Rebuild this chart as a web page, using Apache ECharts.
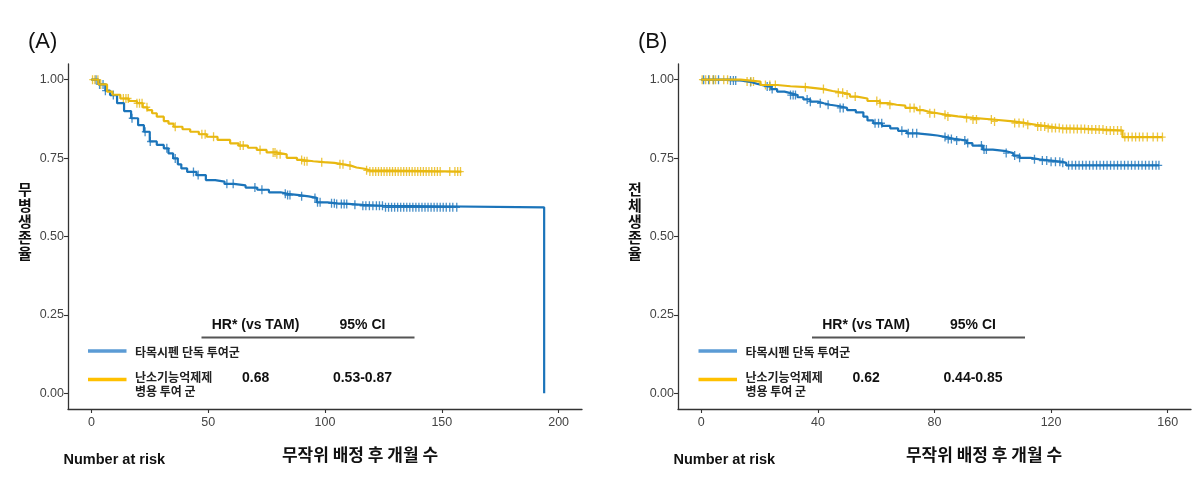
<!DOCTYPE html>
<html>
<head>
<meta charset="utf-8">
<script src="https://cdn.jsdelivr.net/npm/echarts@6/dist/echarts.min.js"></script>
<style>
html,body{margin:0;padding:0;background:#fff;}
#chart{width:1200px;height:482px;}
</style>
</head>
<body>
<div id="chart"></div>
<script>
// ---------- DATA ----------
const xTicksA = [0, 50, 100, 150, 200];
const xTicksB = [0, 40, 80, 120, 160];
const yTicks = [0, 0.25, 0.5, 0.75, 1];

// Panel A: disease-free survival
const dfsTamTime = [0,3,6,8,11,14,17,20,22.5,25,28,31,33,35,37,38.5,41,45,49,53,57,61,66,71,76,81,84,89,93,96.5,101,105,110,116,125,193.8];
const dfsTamSurv = [1,0.985,0.965,0.951,0.925,0.9,0.877,0.855,0.834,0.803,0.792,0.781,0.765,0.749,0.73,0.717,0.706,0.696,0.68,0.675,0.668,0.663,0.656,0.649,0.641,0.636,0.632,0.628,0.623,0.609,0.606,0.604,0.601,0.598,0.593,0];
const dfsTamCens = [2,3.5,5,6,9.4,17.4,23,25.2,32.3,35.9,43.7,45.7,58,60.7,70,73,83,84,85,90,95.7,96.8,97.9,102.8,104,105,107,108.2,109.3,112.8,116.2,117.5,119,120.5,122,123.3,124.6,125.9,127.2,128.5,129.8,131.1,132.4,133.7,135,136.3,137.6,138.9,140.2,141.5,142.8,144.1,145.4,146.7,148,149.3,150.6,151.9,153.4,154.7,156.4];

const dfsOfsTime = [0,3,6.7,9,12.4,16,19.5,22,24,26,28,31,33,35.2,39,42.3,46,49.4,54,59.4,63,67,70.8,75,79,83.6,88,90.7,95,99.3,104,107.8,111,113.5,117,119.2,158.4];
const dfsOfsSurv = [1,0.985,0.962,0.952,0.94,0.932,0.925,0.912,0.903,0.893,0.882,0.868,0.86,0.85,0.842,0.834,0.826,0.818,0.808,0.797,0.79,0.783,0.776,0.768,0.762,0.751,0.744,0.74,0.737,0.735,0.73,0.726,0.72,0.716,0.711,0.707,0.707];
const dfsOfsCens = [0.5,1.5,2.8,4,13.7,14.8,15.8,19.5,20.6,21.7,23.8,35.9,47.3,48.7,52.3,63.7,65,72.2,77.8,78.6,79.4,80.8,90,91.2,92.3,98.6,106.4,107.7,110.7,117.8,119.2,120.5,121.7,122.9,124.1,125.3,126.5,127.7,128.9,130.1,131.3,132.5,133.7,134.9,136.1,137.3,138.5,139.7,140.9,142.1,143.3,144.5,145.7,146.9,148.1,149.3,153.4,155.6,156.8,158];

// Panel B: overall survival
const osTamTime = [0,10,14,17,19,21.4,24,26,28.5,30.6,33,35,37.4,40,42,44.2,47,50,53,55.6,57,59,62,64.8,67.5,70.5,74,78.4,81,84.1,87,91,93,96.6,100,104.6,107,109.2,113,116,120,124,125.2,157];
const osTamSurv = [1,0.997,0.993,0.987,0.982,0.978,0.97,0.962,0.957,0.951,0.944,0.937,0.93,0.925,0.92,0.916,0.91,0.903,0.896,0.882,0.87,0.861,0.853,0.845,0.837,0.829,0.825,0.822,0.817,0.811,0.806,0.798,0.79,0.777,0.772,0.766,0.758,0.751,0.746,0.742,0.738,0.735,0.727,0.727];
const osTamCens = [0.8,2.5,4.2,5.9,10,11,11.8,16.9,22.6,23.5,24.3,30.6,31.5,32.3,36.3,37.4,40.8,43.5,47.6,48.7,59.6,60.8,61.9,68.8,71,72.5,73.9,83.6,84.7,85.8,87.6,90.4,91.4,96.1,97,97.8,104.6,107.5,109.2,114.3,117,118.5,120,121.5,123,124,126,127.2,128.4,129.6,130.8,132,133.2,134.4,135.6,136.8,138,139.2,140.4,141.6,142.8,144,145.2,146.4,147.6,148.8,150,151.2,152.4,153.6,154.8,156,157];

const osOfsTime = [0,13.5,20.3,26,30.6,36,42,45,48.8,51,53.4,57,61.3,64,67,70,73.9,76,78.4,81,84.1,88,93.2,100,106.9,111,114.9,119,122.9,132,138,144.5,158.2];
const osOfsSurv = [1,0.994,0.983,0.979,0.976,0.97,0.964,0.958,0.953,0.946,0.94,0.932,0.925,0.92,0.917,0.91,0.903,0.897,0.893,0.888,0.883,0.878,0.873,0.867,0.862,0.856,0.851,0.846,0.843,0.841,0.838,0.817,0.817];
const osOfsCens = [0.3,1.5,2.8,4,4.9,7.7,9,15.7,17,17.9,22,23.5,25.4,35.7,41.9,47,48.5,50,52.8,60.2,61.3,64.7,71.6,73,75,78.4,80,83.6,84.6,91,93.2,94.4,99.5,100.6,107.5,109,110.5,112,115.4,116.5,117.8,119,120.3,121.5,122.8,124,125.3,126.5,127.8,129,130.3,131.5,132.8,134,135.3,136.5,137.8,139,140.3,141.5,142.8,144,145.3,146.5,147.8,149,150.3,151.5,153,155,156.5,158.2];

const groupNames = ['타목시펜 단독 투여군', '난소기능억제제\n병용 투여 군'];
const hrA = ['0.68', '0.53-0.87'];
const hrB = ['0.62', '0.44-0.85'];

// ---------- HELPERS ----------
function pairs(t, s) { return t.map((v, i) => [v, s[i]]); }
function stepAt(t, times, surv) {
  let v = surv[0];
  for (let i = 0; i < times.length; i++) { if (times[i] <= t) v = surv[i]; else break; }
  return v;
}
function censPts(c, times, surv) { return c.map(t => [t, stepAt(t, times, surv)]); }

const BLUE = '#1B74BA', YELLOW = '#E8B810';
const LEG_BLUE = '#5B9BD5', LEG_YELLOW = '#FFC000';
const FONT = "'Liberation Sans', Arial, 'Noto Sans CJK KR', sans-serif";
const KFONT = "'Noto Sans CJK KR', 'Liberation Sans', sans-serif";
const plusPath = 'path://M8,0 L12,0 L12,8.5 L20,8.5 L20,11.5 L12,11.5 L12,20 L8,20 L8,11.5 L0,11.5 L0,8.5 L8,8.5 Z';

function xAxisCfg(gi, min, max, ticks) {
  return {
    type: 'value', gridIndex: gi, min: min, max: max,
    axisLine: { show: true, onZero: false, lineStyle: { color: '#333', width: 1.3 } },
    axisTick: { show: true, customValues: ticks, length: 4, lineStyle: { color: '#333', width: 1.1 } },
    axisLabel: { customValues: ticks, color: '#444', fontSize: 12.5, fontFamily: FONT, margin: 7 },
    splitLine: { show: false }
  };
}
function yAxisCfg(gi) {
  return {
    type: 'value', gridIndex: gi, min: -0.05, max: 1.05,
    axisLine: { show: true, onZero: false, lineStyle: { color: '#333', width: 1.3 } },
    axisTick: { show: true, customValues: yTicks, length: 4, lineStyle: { color: '#333', width: 1.1 } },
    axisLabel: { customValues: yTicks, color: '#444', fontSize: 12.5, fontFamily: FONT, margin: 4,
      formatter: v => Number(v).toFixed(2) },
    splitLine: { show: false }
  };
}
function lineSeries(gi, data, color) {
  return { type: 'line', xAxisIndex: gi, yAxisIndex: gi, data: data, step: 'end',
    showSymbol: false, symbol: 'none', lineStyle: { color: color, width: 2.2 }, silent: true, animation: false };
}
function censSeries(gi, data, color) {
  return { type: 'scatter', xAxisIndex: gi, yAxisIndex: gi, data: data, symbol: plusPath,
    symbolSize: [6.5, 9], itemStyle: { color: color }, silent: true, animation: false };
}

function txt(x, y, text, opt) {
  return { type: 'text', x: x, y: y, silent: true,
    style: Object.assign({ text: text, fill: '#111', font: 'bold 14px ' + FONT, align: 'left', verticalAlign: 'middle' }, opt || {}) };
}
function ln(x1, y1, x2, y2, stroke, w) {
  return { type: 'line', silent: true, shape: { x1: x1, y1: y1, x2: x2, y2: y2 }, style: { stroke: stroke, lineWidth: w } };
}
function legendBlock(ox, hr) {
  return [
    txt(ox + 255.5, 325, 'HR* (vs TAM)', { align: 'center' }),
    txt(ox + 362.5, 325, '95% CI', { align: 'center' }),
    ln(ox + 201.5, 337.5, ox + 414.5, 337.5, '#555', 2),
    ln(ox + 88, 351, ox + 126.5, 351, LEG_BLUE, 3.5),
    txt(ox + 135, 352, groupNames[0], { font: 'bold 12px ' + KFONT, fill: '#222' }),
    ln(ox + 88, 379.5, ox + 126.5, 379.5, LEG_YELLOW, 3.5),
    txt(ox + 135, 384, groupNames[1], { font: 'bold 12px ' + KFONT, fill: '#222', lineHeight: 14 }),
    txt(ox + 255.7, 378.5, hr[0], { align: 'center' }),
    txt(ox + 362.5, 378.5, hr[1], { align: 'center' })
  ];
}

const graphics = [
  txt(28, 42, '(A)', { font: '22px ' + FONT, fill: '#111' }),
  txt(638, 42, '(B)', { font: '22px ' + FONT, fill: '#111' }),
  txt(25, 221, '무\n병\n생\n존\n율', { align: 'center', font: 'bold 15px ' + KFONT, lineHeight: 16 }),
  txt(635, 221, '전\n체\n생\n존\n율', { align: 'center', font: 'bold 15px ' + KFONT, lineHeight: 16 }),
  txt(360, 455, '무작위 배정 후 개월 수', { align: 'center', font: 'bold 17px ' + KFONT }),
  txt(984, 455, '무작위 배정 후 개월 수', { align: 'center', font: 'bold 17px ' + KFONT }),
  txt(63.5, 460, 'Number at risk', { font: 'bold 14.5px ' + FONT }),
  txt(673.5, 460, 'Number at risk', { font: 'bold 14.5px ' + FONT })
].concat(legendBlock(0, hrA), legendBlock(610.5, hrB));

const chart = echarts.init(document.getElementById('chart'), null, { renderer: 'canvas' });
chart.setOption({
  backgroundColor: '#fff',
  animation: false,
  grid: [
    { left: 68, top: 64, width: 514, height: 345 },
    { left: 678, top: 64, width: 513, height: 345 }
  ],
  xAxis: [xAxisCfg(0, -10, 210, xTicksA), xAxisCfg(1, -8, 168, xTicksB)],
  yAxis: [yAxisCfg(0), yAxisCfg(1)],
  series: [
    lineSeries(0, pairs(dfsTamTime, dfsTamSurv), BLUE),
    censSeries(0, censPts(dfsTamCens, dfsTamTime, dfsTamSurv), BLUE),
    lineSeries(0, pairs(dfsOfsTime, dfsOfsSurv), YELLOW),
    censSeries(0, censPts(dfsOfsCens, dfsOfsTime, dfsOfsSurv), YELLOW),
    lineSeries(1, pairs(osTamTime, osTamSurv), BLUE),
    censSeries(1, censPts(osTamCens, osTamTime, osTamSurv), BLUE),
    lineSeries(1, pairs(osOfsTime, osOfsSurv), YELLOW),
    censSeries(1, censPts(osOfsCens, osOfsTime, osOfsSurv), YELLOW)
  ],
  graphic: graphics
});
</script>
</body>
</html>
